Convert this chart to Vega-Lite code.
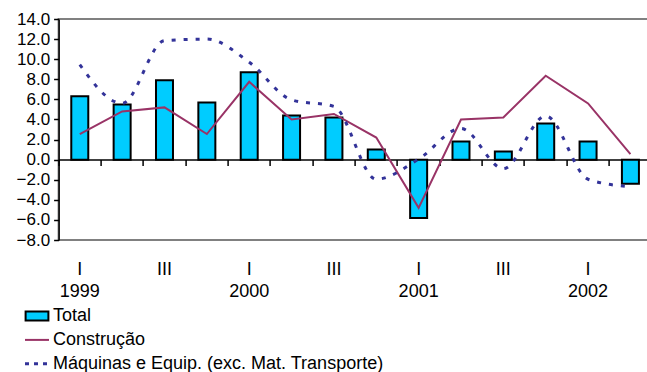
{
  "$schema": "https://vega.github.io/schema/vega-lite/v6.json",
  "autosize": {"type": "none"},
  "width": 593,
  "height": 221,
  "padding": {"left": 58.6, "top": 19, "right": -4.6, "bottom": 132},
  "config": {
    "font": "Liberation Sans",
    "view": {"stroke": "#808080", "strokeWidth": 2}
  },
  "data": {
    "values": [
      {"q": "1999 I", "series": "Total", "value": 6.3},
      {"q": "1999 II", "series": "Total", "value": 5.5},
      {"q": "1999 III", "series": "Total", "value": 7.9},
      {"q": "1999 IV", "series": "Total", "value": 5.7},
      {"q": "2000 I", "series": "Total", "value": 8.7},
      {"q": "2000 II", "series": "Total", "value": 4.4},
      {"q": "2000 III", "series": "Total", "value": 4.2},
      {"q": "2000 IV", "series": "Total", "value": 1.0},
      {"q": "2001 I", "series": "Total", "value": -5.8},
      {"q": "2001 II", "series": "Total", "value": 1.8},
      {"q": "2001 III", "series": "Total", "value": 0.8},
      {"q": "2001 IV", "series": "Total", "value": 3.6},
      {"q": "2002 I", "series": "Total", "value": 1.8},
      {"q": "2002 II", "series": "Total", "value": -2.4},
      {"q": "1999 I", "series": "Construção", "value": 2.55},
      {"q": "1999 II", "series": "Construção", "value": 4.8},
      {"q": "1999 III", "series": "Construção", "value": 5.2},
      {"q": "1999 IV", "series": "Construção", "value": 2.55},
      {"q": "2000 I", "series": "Construção", "value": 7.75},
      {"q": "2000 II", "series": "Construção", "value": 4.0},
      {"q": "2000 III", "series": "Construção", "value": 4.55},
      {"q": "2000 IV", "series": "Construção", "value": 2.2},
      {"q": "2001 I", "series": "Construção", "value": -4.8},
      {"q": "2001 II", "series": "Construção", "value": 4.0},
      {"q": "2001 III", "series": "Construção", "value": 4.2},
      {"q": "2001 IV", "series": "Construção", "value": 8.35},
      {"q": "2002 I", "series": "Construção", "value": 5.6},
      {"q": "2002 II", "series": "Construção", "value": 0.55},
      {"q": "1999 I", "series": "Máquinas e Equip. (exc. Mat. Transporte)", "value": 9.45},
      {"q": "1999 II", "series": "Máquinas e Equip. (exc. Mat. Transporte)", "value": 5.6},
      {"q": "1999 III", "series": "Máquinas e Equip. (exc. Mat. Transporte)", "value": 11.85},
      {"q": "1999 IV", "series": "Máquinas e Equip. (exc. Mat. Transporte)", "value": 12.0},
      {"q": "2000 I", "series": "Máquinas e Equip. (exc. Mat. Transporte)", "value": 9.7},
      {"q": "2000 II", "series": "Máquinas e Equip. (exc. Mat. Transporte)", "value": 5.95},
      {"q": "2000 III", "series": "Máquinas e Equip. (exc. Mat. Transporte)", "value": 5.3},
      {"q": "2000 IV", "series": "Máquinas e Equip. (exc. Mat. Transporte)", "value": -1.95},
      {"q": "2001 I", "series": "Máquinas e Equip. (exc. Mat. Transporte)", "value": 0.05},
      {"q": "2001 II", "series": "Máquinas e Equip. (exc. Mat. Transporte)", "value": 3.1},
      {"q": "2001 III", "series": "Máquinas e Equip. (exc. Mat. Transporte)", "value": -0.9},
      {"q": "2001 IV", "series": "Máquinas e Equip. (exc. Mat. Transporte)", "value": 4.35},
      {"q": "2002 I", "series": "Máquinas e Equip. (exc. Mat. Transporte)", "value": -1.95},
      {"q": "2002 II", "series": "Máquinas e Equip. (exc. Mat. Transporte)", "value": -2.7}
    ]
  },
  "encoding": {
    "y": {
      "field": "value",
      "type": "quantitative",
      "scale": {"domain": [-8, 14], "nice": false, "zero": false},
      "axis": {
        "title": null,
        "values": [-8, -6, -4, -2, 0, 2, 4, 6, 8, 10, 12, 14],
        "format": ".1f",
        "grid": false,
        "domainColor": "black",
        "domainWidth": 1.5,
        "tickColor": "black",
        "tickSize": 5,
        "tickWidth": 1.5,
        "labelFontSize": 17,
        "labelColor": "black",
        "labelPadding": 4,
        "labelOverlap": false,
        "labelBound": false,
        "labelFlush": false
      }
    },
    "stroke": {
      "field": "series",
      "type": "nominal",
      "scale": {
        "domain": ["Total", "Construção", "Máquinas e Equip. (exc. Mat. Transporte)"],
        "range": ["#000000", "#993366", "#333399"]
      },
      "legend": {
        "title": null,
        "orient": "none",
        "legendX": -30.6,
        "legendY": 288,
        "padding": 0,
        "symbolSize": 576,
        "labelFontSize": 18,
        "labelColor": "black",
        "labelOffset": 7,
        "labelLimit": 500,
        "rowPadding": 5.9,
        "encode": {
          "symbols": {
            "update": {
              "shape": {"signal": "datum.value === 'Total' ? 'M-0.95,-0.38H0.95V0.38H-0.95Z' : 'stroke'"},
              "fill": {"signal": "datum.value === 'Total' ? '#00CCFF' : 'transparent'"},
              "strokeWidth": {"signal": "datum.value === 'Total' ? 2 : (datum.value === 'Construção' ? 2 : 3)"},
              "strokeDash": {"signal": "datum.value === 'Total' ? [] : (datum.value === 'Construção' ? [] : [4, 5])"},
              "fillOpacity": {"value": 1},
              "strokeOpacity": {"value": 1},
              "opacity": {"value": 1}
            }
          }
        }
      }
    }
  },
  "layer": [
    {
      "transform": [{"filter": "datum.series === 'Total'"}],
      "mark": {"type": "bar", "width": 17, "strokeWidth": 2},
      "encoding": {
        "fill": {"value": "#00CCFF"},
        "x": {
          "field": "q",
          "type": "ordinal",
          "sort": null,
          "scale": {
            "domain": ["1999 I", "1999 II", "1999 III", "1999 IV", "2000 I", "2000 II", "2000 III", "2000 IV", "2001 I", "2001 II", "2001 III", "2001 IV", "2002 I", "2002 II"],
            "paddingInner": 0,
            "paddingOuter": 0
          },
          "axis": {
            "title": null,
            "orient": "bottom",
            "domain": false,
            "ticks": false,
            "grid": false,
            "labelAngle": 0,
            "labelPadding": 20.5,
            "labelFontSize": 18,
            "labelLineHeight": 22,
            "labelColor": "black",
            "labelOverlap": false,
            "labelBaseline": "top",
            "labelExpr": "split(datum.value, ' ')[1] === 'I' ? ['I', split(datum.value, ' ')[0]] : (split(datum.value, ' ')[1] === 'III' ? 'III' : '')"
          }
        }
      }
    },
    {
      "transform": [{"filter": "datum.series === 'Construção'"}],
      "mark": {"type": "line", "strokeWidth": 2},
      "encoding": {
        "x": {
          "field": "q",
          "type": "ordinal",
          "sort": null,
          "axis": {
            "title": null,
            "orient": "bottom",
            "labels": false,
            "domain": true,
            "domainColor": "black",
            "domainWidth": 1.5,
            "ticks": true,
            "tickColor": "black",
            "tickSize": 6,
            "tickWidth": 1.5,
            "bandPosition": 0,
            "offset": -80.4,
            "grid": false
          }
        }
      }
    },
    {
      "transform": [{"filter": "datum.series === 'Máquinas e Equip. (exc. Mat. Transporte)'"}],
      "mark": {"type": "line", "strokeWidth": 3, "strokeDash": [4, 8], "interpolate": "monotone"},
      "encoding": {
        "x": {"field": "q", "type": "ordinal", "sort": null, "axis": null}
      }
    }
  ],
  "resolve": {"axis": {"x": "independent"}}
}
